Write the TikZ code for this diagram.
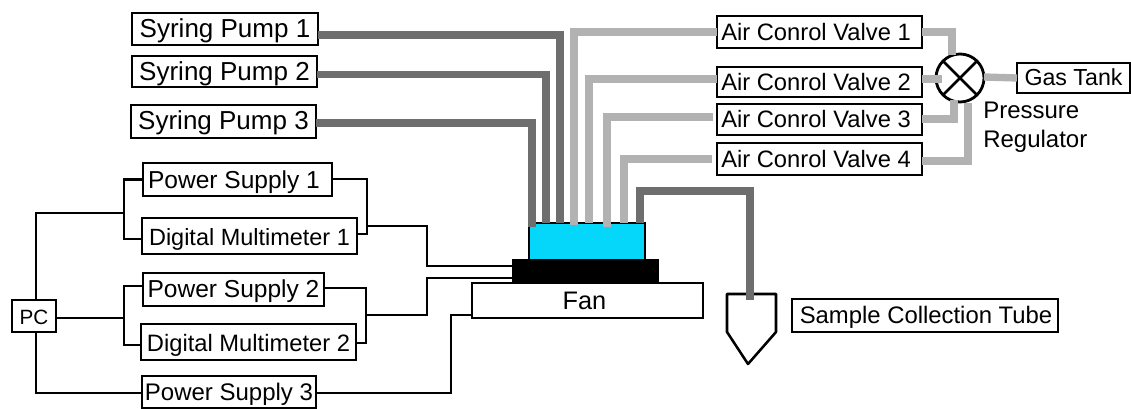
\documentclass[tikz,border=0pt]{standalone}
\usepackage{fontspec}
\setmainfont{Liberation Sans}
\usetikzlibrary{calc}
\tikzset{
  bx/.style={draw=black,line width=1.9pt,fill=white,inner sep=0pt,outer sep=0pt,text=black},
  wire/.style={draw=black,line width=2pt},
  dk/.style={draw=tubedark,line width=5.5pt},
  lt/.style={draw=tubelight,line width=5.5pt},
}
\definecolor{tubedark}{HTML}{6E6E6E}
\definecolor{tubelight}{HTML}{B2B2B2}
\definecolor{chipblue}{HTML}{05D7FA}
\newcommand{\fs}[1]{\fontsize{#1}{#1}\selectfont}
\newcommand{\bxnode}[9]{% name, x0,y0,x1,y1,size,dx,dy,text
  \node[bx,minimum width={(#4-#2)*0.75pt},minimum height={(#5-#3)*0.75pt},font=\fs{#6}] (#1) at ({(#2+#4)/2},{(#3+#5)/2}) {\raisebox{\dimexpr -#8pt*3/4\relax}[\height][\depth]{\makebox[0pt][c]{\kern\dimexpr #7pt*3/2\relax #9}}};}
\begin{document}
\begin{tikzpicture}[x=0.75pt,y=-0.75pt]
\useasboundingbox (0,0) rectangle (1131,409);
% boxes
\bxnode{sp1}{132}{13}{318}{45}{19.5}{0}{2}{Syring Pump 1}
\bxnode{sp2}{132}{56}{317}{87}{19.5}{0}{2}{Syring Pump 2}
\bxnode{sp3}{131}{105}{316}{138}{19.5}{0}{1}{Syring Pump 3}
\bxnode{ps1}{143}{163}{332}{196}{18.4}{-3.5}{3}{Power Supply 1}
\bxnode{dm1}{142}{218}{357}{254}{17.6}{0}{3}{Digital Multimeter 1}
\bxnode{ps2}{143}{273}{324}{306}{18.4}{0}{2}{Power Supply 2}
\bxnode{dm2}{141}{324}{356}{360}{17.8}{0}{3.5}{Digital Multimeter 2}
\bxnode{ps3}{142}{376}{316}{408}{18}{0}{2}{Power Supply 3}
\bxnode{pc}{12}{300}{56}{332}{15.5}{0}{1}{PC}
\bxnode{av1}{717}{16}{922}{48}{17.8}{-3.5}{0}{Air Conrol Valve 1}
\bxnode{av2}{717}{67}{922}{97}{17.8}{-3.5}{0}{Air Conrol Valve 2}
\bxnode{av3}{717}{104}{922}{135}{17.8}{-3.5}{0}{Air Conrol Valve 3}
\bxnode{av4}{717}{143}{922}{175}{17.8}{-3.5}{0}{Air Conrol Valve 4}
\bxnode{gas}{1017}{63}{1130}{93}{17.4}{0}{-1}{Gas Tank}
\bxnode{scol}{792}{299}{1058}{332}{17.9}{1}{2}{Sample Collection Tube}
% stack
\node[bx,fill=chipblue,minimum width={116*0.75pt},minimum height={37*0.75pt}] (chip) at (587,241.5) {};
\node[bx,fill=black,minimum width={145*0.75pt},minimum height={22*0.75pt}] (plate) at (585.5,271) {};
\bxnode{fan}{472}{283}{703}{318}{19}{-3}{0.5}{Fan}
% tube
\draw[line width=1.9pt,fill=white,line join=round] (727,294) -- (776,294) -- (776,332) -- (748,364) -- (727,332) -- cycle;
\coordinate (tube) at (750,300);
% regulator
\node[draw=black,line width=2.1pt,fill=white,circle,minimum size={48*0.75pt},inner sep=0pt,outer sep=0pt] (reg) at (960,78) {};
\draw[line width=2pt] (reg.north west) -- (reg.south east) (reg.north east) -- (reg.south west);
\node[anchor=north west,align=left,inner sep=0pt,font=\fs{18}] (reglabel) at (983,102) {Pressure\\[3.5pt]Regulator};
% dark tubes
\draw[dk] ($(sp1.east)+(0,6)$) -| ($(chip.north)+(-27,0)$);
\draw[dk] ($(sp2.east)+(0,3)$) -| ($(chip.north)+(-41,0)$);
\draw[dk] ($(sp3.east)+(0,1.5)$) -| ($(chip.north)+(-55,4)$);
\draw[dk] ($(chip.north)+(53,0)$) |- ($(tube)+(0,-109)$) -- (tube);
% light tubes
\draw[lt] ($(av1.west)+(0,0)$) -| ($(chip.north)+(-13,2)$);
\draw[lt] ($(av2.west)+(0,-3)$) -| ($(chip.north)+(2,0)$);
\draw[lt] ($(av3.west)+(-4,-2.5)$) -| ($(chip.north)+(20,4)$);
\draw[lt] ($(av4.west)+(-5,0)$) -| ($(chip.north)+(37,0)$);
\draw[lt] ($(av1.east)+(0,0)$) -| ($(reg.north)+(-8,1)$);
\draw[lt] ($(av2.east)+(0,-3)$) -- ($(reg.west)+(6,1)$);
\draw[lt] ($(av3.east)+(0,-0.5)$) -| ($(reg.south)+(-6,-2)$);
\draw[lt] ($(av4.east)+(0,2)$) -| ($(reg.south)+(8,1)$);
\draw[lt] ($(reg.east)+(0,-1)$) -- (gas.west);
% wires
\draw[wire] (pc.north -| 36,0) |- (124,213);
\draw[wire] (ps1.west) -| (124,239) -- (dm1.west |- 0,239);
\draw[wire] ($(pc.east)+(0,2)$) -- (124,318);
\draw[wire] ($(ps2.west)+(0,-3.5)$) -| (124,345) -- ($(dm2.west)+(0,3)$);
\draw[wire] (pc.south -| 36,0) |- ($(ps3.west)+(0,1)$);
\draw[wire] ($(ps1.east)+(0,-0.5)$) -| (367,234) -- ($(dm1.east)+(0,-2)$);
\draw[wire] (367,226) -| (427,266) -- ($(plate.west)+(0,-5)$);
\draw[wire] ($(ps2.east)+(0,-1.5)$) -| (366,343) -- ($(dm2.east)+(0,1)$);
\draw[wire] (366,315) -| (427,278) -- ($(plate.west)+(0,7)$);
\draw[wire] ($(ps3.east)+(0,1)$) -| (451,315) -- ($(fan.west)+(0,14.5)$);
\end{tikzpicture}
\end{document}
